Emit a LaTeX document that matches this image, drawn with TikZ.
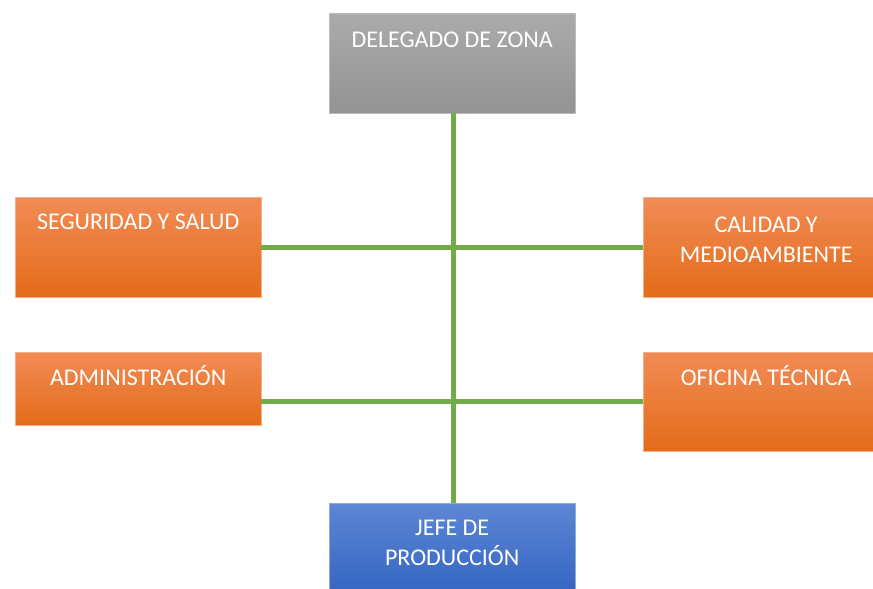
\documentclass[tikz,border=0pt]{standalone}
\usepackage{fontspec}
\setmainfont{Carlito}
\definecolor{linegreen}{HTML}{70AD47}
\definecolor{graytop}{HTML}{ABABAB}
\definecolor{graymid}{HTML}{A0A0A0}
\definecolor{graybot}{HTML}{939393}
\definecolor{orgtop}{HTML}{F18B55}
\definecolor{orgmid}{HTML}{F37D2E}
\definecolor{orgbot}{HTML}{E46C1A}
\definecolor{bluetop}{HTML}{5D86D4}
\definecolor{bluemid}{HTML}{4673CC}
\definecolor{bluebot}{HTML}{3062C0}
\begin{document}
\begin{tikzpicture}[x=1pt,y=-1pt,
  box/.style={rectangle, inner sep=0pt, minimum width=246pt, anchor=north west, line width=0.4pt},
  graybox/.style={box, top color=graytop, middle color=graymid, bottom color=graybot, draw=graytop!80!white},
  orgbox/.style={box, top color=orgtop, middle color=orgmid, bottom color=orgbot, draw=orgtop!70!white},
  bluebox/.style={box, top color=bluetop, middle color=bluemid, bottom color=bluebot, draw=bluetop!70!white},
  lbl/.style={text=white, font=\fontsize{24}{30}\selectfont, align=center, anchor=base, inner sep=0pt},
  conn/.style={draw=linegreen, line width=4.6pt}]
\useasboundingbox (0,0) rectangle (873,589);
\clip (0,0) rectangle (873,589);
\node[graybox, minimum height=100pt] (dz) at (329,13) {};
\node[orgbox, minimum height=100pt] (ss) at (15,197) {};
\node[orgbox, minimum height=100pt] (cm) at (643,197) {};
\node[orgbox, minimum height=73pt] (ad) at (15,352) {};
\node[orgbox, minimum height=99pt] (ot) at (643,352) {};
\node[bluebox, minimum height=100pt] (jp) at (329,503) {};
\draw[conn] ([xshift=1.5pt]dz.south) -- ([xshift=1.5pt]jp.north);
\draw[conn] (ss.east) -- (cm.west);
\draw[conn] (ad.east |- ot.west) -- (ot.west);
\node[lbl] (tdz) at ([yshift=-34pt]dz.north) {DELEGADO DE ZONA};
\node[lbl] (tss) at ([yshift=-32.5pt]ss.north) {SEGURIDAD Y SALUD};
\node[lbl] (tcm) at ([yshift=-65.5pt]cm.north) {CALIDAD Y\\MEDIOAMBIENTE};
\node[lbl] (tad) at ([yshift=-33.5pt]ad.north) {ADMINISTRACIÓN};
\node[lbl] (tot) at ([yshift=-33.5pt]ot.north) {OFICINA TÉCNICA};
\node[lbl] (tjp) at ([yshift=-62.5pt]jp.north) {JEFE DE\\PRODUCCIÓN};
\end{tikzpicture}
\end{document}
